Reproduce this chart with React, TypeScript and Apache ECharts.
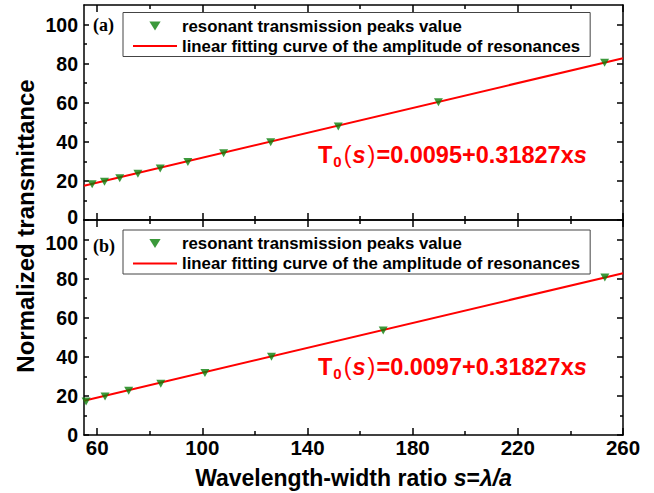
import React, { useEffect, useRef } from "react";
import * as echarts from "echarts";

// ---- data ----
const xMin = 55;
const xMax = 260;
const yMin = 0;
const yMax = 110;
const xMajorTicks = [60, 100, 140, 180, 220, 260];
const xMinorTicks = [80, 120, 160, 200, 240];
const yMajorTicks = [0, 20, 40, 60, 80, 100];
const yMinorTicks = [10, 30, 50, 70, 90];

const peakSA = [58.1, 62.8, 68.6, 75.5, 84.0, 94.5, 108.1, 126.0, 151.7, 189.8, 253.0];
const peakTA = [18.3, 19.6, 21.4, 23.7, 26.3, 29.7, 34.2, 39.8, 47.9, 60.2, 80.4];
const peakSB = [55.8, 63.0, 72.0, 84.2, 101.0, 126.3, 168.8, 253.1];
const peakTB = [17.1, 19.7, 22.6, 26.2, 31.7, 40.0, 53.5, 80.6];
const fitS = [55, 260];
const fitTA = [17.5, 82.8];
const fitTB = [17.5, 82.8];

const seriesNames = [
  "resonant transmission peaks value",
  "linear fitting curve of the amplitude of resonances",
];
const panelLabels = ["(a)", "(b)"];
const eqConst = ["0.0095", "0.0097"];
const eqSlope = "0.31827";

const SANS = "Liberation Sans, Arial, sans-serif";

function zip(a: number[], b: number[]) {
  return a.map((v, i) => [v, b[i]]);
}

export default function App() {
  const ref = useRef<HTMLDivElement>(null);
  useEffect(() => {
    if (!ref.current) return;
    const chart = echarts.init(ref.current, null, { renderer: "svg" });

    const grids = [
      { left: 84, right: 31, top: 5, height: 215 },
      { left: 84, right: 31, top: 220, height: 215 },
    ];

    const lineStyle = { color: "#000", width: 1.5 };
    const labelFont = { fontSize: 20.5, lineHeight: 16, fontWeight: "bold", fontFamily: SANS, color: "#000" };
    const yFontBase = { fontSize: 19.5, lineHeight: 16, fontWeight: "bold", fontFamily: SANS, color: "#000" };
    const xAxes: any[] = [];
    const yAxes: any[] = [];
    [0, 1].forEach((g) => {
      xAxes.push({
        type: "value", gridIndex: g, position: "bottom", min: xMin, max: xMax,
        axisLine: { show: true, onZero: false, lineStyle },
        axisTick: { show: true, inside: true, length: 7, customValues: xMajorTicks, lineStyle },
        axisLabel: g === 1
          ? { show: true, customValues: xMajorTicks, ...labelFont, margin: 4 }
          : { show: false },
        splitLine: { show: false },
        ...(g === 1
          ? {
              name: "Wavelength-width ratio {i|s}={i|λ/a}",
              nameLocation: "middle",
              nameGap: 31,
              nameTextStyle: {
                fontSize: 23, fontWeight: "bold", fontFamily: SANS, color: "#000",
                rich: { i: { fontSize: 23, fontWeight: "bold", fontStyle: "italic", fontFamily: SANS, color: "#000" } },
              },
            }
          : {}),
      });
      xAxes.push({
        type: "value", gridIndex: g, position: "bottom", min: xMin, max: xMax,
        axisLine: { show: false, onZero: false },
        axisTick: { show: true, inside: true, length: 4, customValues: xMinorTicks, lineStyle },
        axisLabel: { show: false }, splitLine: { show: false },
      });
      xAxes.push({
        type: "value", gridIndex: g, position: "top", min: xMin, max: xMax,
        axisLine: { show: true, onZero: false, lineStyle },
        axisTick: { show: true, inside: true, length: 7, customValues: xMajorTicks, lineStyle },
        axisLabel: { show: false }, splitLine: { show: false },
      });
      xAxes.push({
        type: "value", gridIndex: g, position: "top", min: xMin, max: xMax,
        axisLine: { show: false, onZero: false },
        axisTick: { show: true, inside: true, length: 4, customValues: xMinorTicks, lineStyle },
        axisLabel: { show: false }, splitLine: { show: false },
      });
      yAxes.push({
        type: "value", gridIndex: g, position: "left", min: yMin, max: yMax,
        axisLine: { show: true, onZero: false, lineStyle },
        axisTick: { show: true, inside: true, length: 5, customValues: yMajorTicks, lineStyle },
        axisLabel: {
          show: true, customValues: yMajorTicks, ...yFontBase, margin: 6,
          formatter: (v: number) => {
            if (g === 0 && v === yMin) return `{lo|${v}}`;
            if (g === 1 && v === yMajorTicks[yMajorTicks.length - 1]) return `{hi|${v}}`;
            return `{n|${v}}`;
          },
          rich: {
            n: { ...yFontBase },
            lo: { ...yFontBase, padding: [0, 0, 6, 0] },
            hi: { ...yFontBase, padding: [6, 0, 0, 0] },
          },
        },
        splitLine: { show: false },
      });
      yAxes.push({
        type: "value", gridIndex: g, position: "left", min: yMin, max: yMax,
        axisLine: { show: false, onZero: false },
        axisTick: { show: true, inside: true, length: 3, customValues: yMinorTicks, lineStyle },
        axisLabel: { show: false }, splitLine: { show: false },
      });
      yAxes.push({
        type: "value", gridIndex: g, position: "right", min: yMin, max: yMax,
        axisLine: { show: true, onZero: false, lineStyle },
        axisTick: { show: true, inside: true, length: 6, customValues: yMajorTicks, lineStyle },
        axisLabel: { show: false }, splitLine: { show: false },
      });
      yAxes.push({
        type: "value", gridIndex: g, position: "right", min: yMin, max: yMax,
        axisLine: { show: false, onZero: false },
        axisTick: { show: true, inside: true, length: 3, customValues: yMinorTicks, lineStyle },
        axisLabel: { show: false }, splitLine: { show: false },
      });
    });

    const peaks = [zip(peakSA, peakTA), zip(peakSB, peakTB)];
    const fits = [zip(fitS, fitTA), zip(fitS, fitTB)];
    const series: any[] = [];
    [0, 1].forEach((g) => {
      series.push({
        type: "line",
        name: seriesNames[1],
        xAxisIndex: g * 4,
        yAxisIndex: g * 4,
        data: fits[g],
        symbol: "none",
        lineStyle: { color: "#ff0000", width: 2 },
        itemStyle: { color: "#ff0000" },
        z: 3,
      });
      series.push({
        type: "scatter",
        name: seriesNames[0],
        xAxisIndex: g * 4,
        yAxisIndex: g * 4,
        data: peaks[g],
        symbol: "triangle",
        symbolRotate: 180,
        symbolSize: [9, 8],
        itemStyle: { color: "#0a800a" },
        z: 4,
      });
    });

    const legends = [12.5, 230].map((top) => ({
      top,
      left: 123,
      orient: "vertical",
      itemWidth: 44,
      itemHeight: 9,
      itemGap: 3,
      padding: [5, 10, 2, 10],
      borderColor: "#444",
      borderWidth: 1,
      backgroundColor: "#fff",
      selectedMode: false,
      symbolKeepAspect: true,
      textStyle: { fontSize: 16.8, lineHeight: 17, fontWeight: "bold", fontFamily: SANS, color: "#000" },
      data: [
        { name: seriesNames[0], icon: "path://M0,0 L10,0 L5,8 Z", itemStyle: { color: "#0a800a" } },
        { name: seriesNames[1], icon: "path://M0,0 L44,0 L44,2 L0,2 Z", itemStyle: { color: "#ff0000" } },
      ],
    }));

    const eqRich = {
      m: { fontSize: 23.5, fontWeight: "bold", fontFamily: SANS, fill: "#ff0000", lineHeight: 28, verticalAlign: "middle" },
      i: { fontSize: 23.5, fontWeight: "bold", fontStyle: "italic", fontFamily: SANS, fill: "#ff0000", lineHeight: 28, verticalAlign: "middle" },
      sub: { fontSize: 15, fontWeight: "bold", fontFamily: SANS, fill: "#ff0000", lineHeight: 28, verticalAlign: "middle", padding: [13, 0, 0, 1] },
      p: { fontSize: 23.5, fontWeight: "normal", fontFamily: SANS, fill: "#ff0000", lineHeight: 28, verticalAlign: "middle", padding: [0, 1, 0, 2] },
    };
    const eqText = (c: string) => `{m|T}{sub|0}{p|(}{i|s}{p|)}{m|=${c}+${eqSlope}x}{i|s}`;

    const graphic: any[] = [
      {
        type: "text", x: 25, y: 226, rotation: Math.PI / 2,
        style: { text: "Normalized transmittance", fontSize: 24, fontWeight: "bold", fontFamily: SANS, fill: "#000", align: "center", verticalAlign: "middle" },
      },
      ...[25, 246].map((y, k) => ({
        type: "text", x: 93, y,
        style: { text: panelLabels[k], fontSize: 18, fontWeight: "bold", fontFamily: "Liberation Serif, Times New Roman, serif", fill: "#000", align: "left", verticalAlign: "middle" },
      })),
      ...[155, 367].map((y, k) => ({
        type: "text", x: 318, y,
        style: { text: eqText(eqConst[k]), rich: eqRich, align: "left", verticalAlign: "middle" },
      })),
    ];

    chart.setOption({
      animation: false,
      backgroundColor: "#fff",
      grid: grids,
      xAxis: xAxes,
      yAxis: yAxes,
      legend: legends,
      series,
      graphic,
    });
    return () => chart.dispose();
  }, []);
  return <div ref={ref} style={{ width: 654, height: 493, position: "absolute", left: 0, top: 0 }} />;
}
